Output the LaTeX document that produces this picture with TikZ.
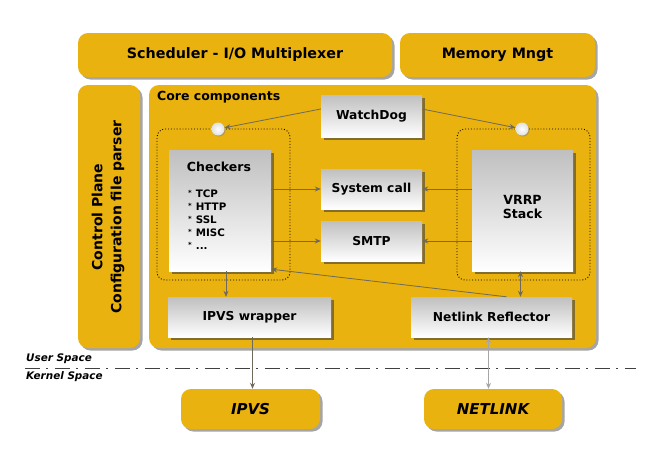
\documentclass[tikz,border=0pt]{standalone}
\usepackage{fontspec}
\setmainfont{DejaVu Sans}
\usetikzlibrary{shadows,arrows.meta}
\definecolor{kyellow}{RGB}{233,178,14}
\definecolor{karrow}{RGB}{110,105,90}
\tikzset{
  ybox/.style={draw=none, fill=kyellow, rounded corners=10pt, inner sep=0pt,
    drop shadow={shadow xshift=2.5pt, shadow yshift=-2.5pt, opacity=0.5, fill=black!70},
    font=\bfseries\fontsize{14.3}{16}\selectfont},
  wbox/.style={draw=none, top color=black!25, bottom color=white, inner sep=0pt,
    drop shadow={shadow xshift=2.5pt, shadow yshift=-2.5pt, opacity=0.6, fill=black!75},
    font=\bfseries\fontsize{12.3}{14}\selectfont},
  dotbox/.style={draw=black, dotted, line width=0.9pt, rounded corners=8pt, inner sep=0pt},
  knob/.style={circle, inner sep=0pt, minimum size=13pt, draw=none,
    inner color=white, outer color=black!12,
    drop shadow={shadow xshift=1pt, shadow yshift=-1pt, opacity=0.5}},
  conn/.style={draw=karrow, line width=0.8pt, -{Stealth[length=6pt,width=5pt]}},
  biconn/.style={draw=karrow, line width=0.8pt, {Stealth[length=6pt,width=5pt]}-{Stealth[length=6pt,width=5pt]}},
  lbl/.style={inner sep=0pt, font=\bfseries\fontsize{12.5}{14}\selectfont},
  kbox/.style={ybox, font=\bfseries\itshape\fontsize{15}{17}\selectfont},
  spacelbl/.style={inner sep=0pt, anchor=west, font=\bfseries\itshape\fontsize{10.4}{12}\selectfont},
}
\begin{document}
\begin{tikzpicture}[x=1pt,y=-1pt]
\useasboundingbox[fill=white] (0,0) rectangle (666,464);
% top yellow boxes
\node[ybox, minimum width=314pt, minimum height=44pt] (sched) at (235,55) {Scheduler - I/O Multiplexer};
\node[ybox, minimum width=195pt, minimum height=44pt] (mem) at (497.5,55) {Memory Mngt};
\node[ybox, minimum width=62pt, minimum height=263pt] (ctrl) at (109,216.5) {};
\node[rotate=90, align=center, font=\bfseries\fontsize{14}{19}\selectfont, inner sep=0pt] (ctrltxt) at (108,217) {Control Plane\\Configuration file parser};
\node[ybox, minimum width=447pt, minimum height=263pt] (core) at (372.5,216.5) {};
\node[lbl, anchor=west] (coretxt) at (157,97) {Core components};
% dotted groups
\node[dotbox, minimum width=133pt, minimum height=151pt] (ldot) at (223.5,204.5) {};
\node[dotbox, minimum width=133pt, minimum height=151pt] (rdot) at (523.5,204.5) {};
% white boxes
\node[wbox, minimum width=101pt, minimum height=42pt] (wd) at (371.5,116) {WatchDog};
\node[wbox, minimum width=102pt, minimum height=121pt] (chk) at (220,210.5) {};
\node[lbl] (chktitle) at (219,167) {Checkers};
\node[inner sep=0pt, anchor=north west, font=\bfseries\fontsize{10.3}{13}\selectfont] (chklist) at (188,188.5)
  {\begin{tabular}{@{}l@{\hspace{4pt}}l@{}}
   \raisebox{2.5pt}{\scriptsize *} & TCP\\
   \raisebox{2.5pt}{\scriptsize *} & HTTP\\
   \raisebox{2.5pt}{\scriptsize *} & SSL\\
   \raisebox{2.5pt}{\scriptsize *} & MISC\\
   \raisebox{2.5pt}{\scriptsize *} & ...
   \end{tabular}};
\node[wbox, minimum width=101pt, minimum height=121pt] (vrrp) at (522.5,210.5) {};
\node[lbl, align=center, font=\bfseries\fontsize{12.6}{14}\selectfont] (vrrptxt) at (522.5,207) {VRRP\\Stack};
\node[wbox, minimum width=101pt, minimum height=40pt] (sys) at (371.5,189) {System call};
\node[wbox, minimum width=101pt, minimum height=40pt] (smtp) at (371.5,241) {SMTP};
\node[wbox, minimum width=163pt, minimum height=40pt] (iw) at (249.5,317) {IPVS wrapper};
\node[wbox, minimum width=161pt, minimum height=40pt] (nr) at (491.5,317) {Netlink Reflector};
% kernel boxes
\node[kbox, minimum width=139pt, minimum height=40pt] (ipvs) at (250.5,409) {IPVS};
\node[kbox, minimum width=138pt, minimum height=40pt] (netlink) at (493,409) {NETLINK};
% knobs
\node[knob] (k1) at (218,129) {};
\node[knob] (k2) at (522,129) {};
% user/kernel separator
\coordinate (sepL) at (25,368);
\coordinate (sepR) at (636,368);
\draw[black!75, line width=0.9pt, dash pattern=on 15pt off 6pt on 2pt off 7pt] (sepL) -- (sepR);
\node[spacelbl] (us) at (26,359) {User Space};
\node[spacelbl] (ks) at (26,377) {Kernel Space};
% connectors
\draw[conn] ([yshift=7pt]wd.west) -- (k1);
\draw[conn] ([yshift=7pt]wd.east) -- (k2);
\draw[conn] (chk.east |- sys.west) -- (sys.west);
\draw[conn] (chk.east |- smtp.west) -- (smtp.west);
\draw[conn] (vrrp.west |- sys.east) -- (sys.east);
\draw[conn] (vrrp.west |- smtp.east) -- (smtp.east);
\draw[conn] ([xshift=15pt]nr.north) -- ([yshift=2pt]chk.south east);
\draw[biconn] ([xshift=-2pt]vrrp.south) -- ([xshift=-2pt]vrrp.south |- nr.north);
\draw[conn] ([xshift=6pt]chk.south) -- ([xshift=6pt]chk.south |- iw.north);
\draw[conn] ([xshift=3pt]iw.south) -- ([xshift=3pt]iw.south |- ipvs.north);
\draw[biconn, draw=black!35] ([xshift=-3pt]nr.south) -- ([xshift=-3pt]nr.south |- netlink.north);
\end{tikzpicture}
\end{document}
